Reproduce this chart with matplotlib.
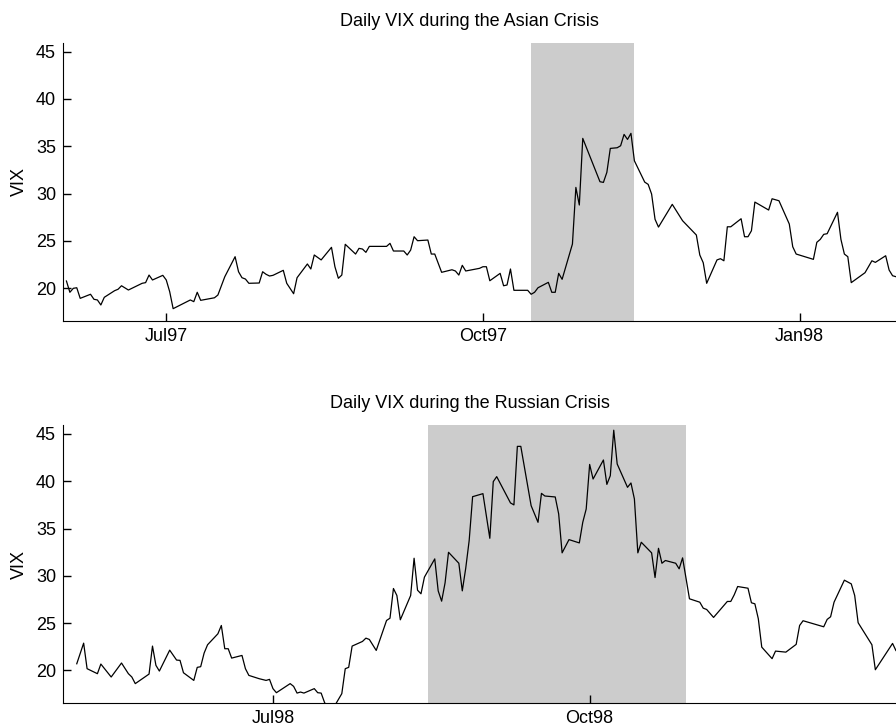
import datetime as dt
import matplotlib
matplotlib.use("Agg")
import matplotlib.pyplot as plt
import matplotlib.dates as mdates

plt.rcParams["font.family"] = ["Liberation Sans", "DejaVu Sans"]

# Asian crisis window: day offsets from 1997-06-01 and VIX close
asia_start = dt.date(1997, 6, 1)
asia_day = [1, 2, 3, 4, 5, 8, 9, 10, 11, 12, 15, 16, 17, 19, 23, 24, 25, 26, 29, 30,
            31, 32, 37, 38, 39, 40, 44, 45, 47, 50, 51, 52, 53, 54, 57, 58, 59, 60, 61, 64,
            65, 67, 68, 71, 72, 73, 75, 78, 79, 80, 81, 82, 85, 86, 87, 88, 89, 94, 95, 96,
            99, 100, 101, 102, 103, 106, 107, 108, 110, 113, 114, 115, 116, 117, 121, 122, 123, 124, 127, 128,
            129, 130, 131, 135, 136, 137, 138, 141, 142, 143, 144, 145, 148, 149, 150, 151, 156, 157, 158, 159,
            161, 162, 163, 164, 165, 166, 169, 170, 171, 172, 173, 177, 180, 184, 185, 186, 187, 190, 191, 192,
            193, 194, 197, 198, 199, 200, 201, 205, 206, 208, 211, 212, 213, 218, 219, 220, 221, 222, 225, 226,
            227, 228, 229, 233, 235, 236, 239, 240, 241, 243]
asia_vix = [20.77, 19.58, 20.00, 20.06, 18.94, 19.37, 18.84, 18.77, 18.24, 19.05, 19.75, 19.90, 20.27, 19.82, 20.53, 20.60, 21.40, 20.88, 21.37, 20.88,
            19.64, 17.85, 18.77, 18.59, 19.58, 18.73, 19.00, 19.29, 21.22, 23.34, 21.75, 21.12, 20.98, 20.53, 20.56, 21.75, 21.48, 21.30, 21.37, 21.90,
            20.53, 19.43, 21.12, 22.57, 22.04, 23.52, 23.00, 24.33, 22.28, 21.06, 21.40, 24.65, 23.62, 24.22, 24.15, 23.80, 24.43, 24.43, 24.75, 23.94,
            23.94, 23.52, 24.04, 25.45, 25.03, 25.10, 23.62, 23.62, 21.69, 21.96, 21.83, 21.40, 22.43, 21.83, 22.11, 22.28, 22.28, 20.80, 21.58, 20.27,
            20.35, 22.04, 19.79, 19.79, 19.37, 19.58, 20.06, 20.63, 19.58, 19.58, 21.58, 20.95, 24.68, 30.66, 28.80, 35.84, 31.26, 31.19, 32.25, 34.78,
            34.85, 35.06, 36.26, 35.73, 36.37, 33.47, 31.22, 30.98, 29.96, 27.29, 26.47, 28.87, 27.14, 25.63, 23.52, 22.70, 20.53, 23.00, 23.13, 22.91,
            26.50, 26.50, 27.35, 25.45, 25.45, 26.08, 29.11, 28.27, 29.46, 29.25, 26.79, 24.39, 23.62, 23.06, 24.86, 25.17, 25.70, 25.77, 28.03, 25.17,
            23.62, 23.34, 20.60, 21.65, 22.91, 22.74, 23.44, 21.93, 21.33, 21.12]

# Russian crisis window: day offsets from 1998-05-01 and VIX close
russia_start = dt.date(1998, 5, 1)
russia_day = [4, 6, 7, 10, 11, 14, 17, 19, 20, 21, 25, 26, 27, 28, 31, 33, 34, 35, 38, 39,
              40, 41, 42, 45, 46, 47, 48, 49, 52, 53, 54, 57, 59, 60, 61, 62, 66, 67, 68, 69,
              70, 73, 74, 75, 76, 77, 79, 81, 82, 83, 84, 87, 88, 89, 91, 94, 95, 96, 97, 98,
              101, 102, 103, 104, 105, 108, 109, 110, 111, 112, 115, 116, 117, 118, 119, 122, 124, 125, 126, 130,
              131, 132, 133, 136, 138, 139, 140, 143, 144, 145, 147, 150, 151, 152, 153, 154, 157, 158, 159, 160,
              161, 164, 165, 166, 167, 168, 171, 172, 173, 174, 175, 178, 179, 180, 182, 185, 186, 187, 189, 193,
              194, 195, 196, 199, 200, 201, 202, 203, 206, 207, 210, 213, 214, 215, 221, 222, 223, 224, 227, 229,
              230, 231, 235, 236, 241, 242, 243]
russia_vix = [20.70, 22.88, 20.18, 19.65, 20.67, 19.30, 20.78, 19.65, 19.30, 18.60, 19.61, 22.57, 20.53, 19.93, 22.14, 21.09, 21.06, 19.75, 18.94, 20.32,
              20.39, 21.83, 22.71, 23.87, 24.75, 22.29, 22.29, 21.30, 21.58, 20.18, 19.47, 19.12, 18.94, 19.05, 18.07, 17.64, 18.60, 18.31, 17.60, 17.71,
              17.60, 18.07, 17.64, 17.60, 16.59, 16.10, 16.30, 17.54, 20.18, 20.32, 22.57, 23.06, 23.41, 23.27, 22.11, 25.28, 25.52, 28.66, 27.92, 25.35,
              27.92, 31.86, 28.48, 28.10, 29.86, 31.79, 28.41, 27.32, 29.26, 32.49, 31.33, 28.41, 30.80, 33.73, 38.37, 38.69, 33.97, 39.96, 40.49, 37.71,
              37.50, 43.69, 43.69, 37.42, 35.66, 38.72, 38.44, 38.34, 36.55, 32.43, 33.83, 33.48, 35.66, 37.07, 41.78, 40.24, 42.25, 39.67, 40.59, 45.40,
              41.83, 39.36, 39.82, 38.13, 32.43, 33.55, 32.43, 29.82, 32.91, 31.33, 31.62, 31.33, 30.74, 31.90, 27.57, 27.21, 26.58, 26.44, 25.60, 27.29,
              27.29, 27.99, 28.87, 28.69, 27.15, 27.04, 25.46, 22.46, 21.24, 22.04, 21.93, 22.75, 24.75, 25.25, 24.61, 25.39, 25.67, 27.21, 29.54, 29.15,
              27.92, 25.04, 22.71, 20.07, 22.85, 22.08, 22.00]

panels = [
    ("Daily VIX during the Asian Crisis", asia_start, asia_day, asia_vix,
     dt.date(1997, 10, 15), dt.date(1997, 11, 14)),
    ("Daily VIX during the Russian Crisis", russia_start, russia_day, russia_vix,
     dt.date(1998, 8, 15), dt.date(1998, 10, 29)),
]

fig = plt.figure(figsize=(8.96, 7.27), dpi=100)
rects = [[0.0703, 0.5585, 0.9297, 0.3828], [0.0703, 0.0330, 0.9297, 0.3824]]

for rect, (title, start, days, vix, crisis_from, crisis_to) in zip(rects, panels):
    ax = fig.add_axes(rect)
    dates = [start + dt.timedelta(days=d) for d in days]
    ax.axvspan(crisis_from, crisis_to, color="#cccccc", lw=0, zorder=0)
    ax.plot(dates, vix, color="black", lw=0.9)
    ax.set_xlim(start, start + dt.timedelta(days=242.6))
    ax.set_ylim(16.55, 45.95)
    ax.set_yticks([20, 25, 30, 35, 40, 45])
    ax.xaxis.set_major_locator(mdates.MonthLocator(bymonth=[1, 4, 7, 10]))
    ax.xaxis.set_major_formatter(mdates.DateFormatter("%b%y"))
    ax.tick_params(direction="in", length=6, width=1, labelsize=13, pad=5)
    for s in ["top", "right"]:
        ax.spines[s].set_visible(False)
    ax.set_ylabel("VIX", fontsize=13, labelpad=6)
    ax.set_title(title, fontsize=13, pad=12, x=0.488)

fig.savefig("out.png", dpi=100)
